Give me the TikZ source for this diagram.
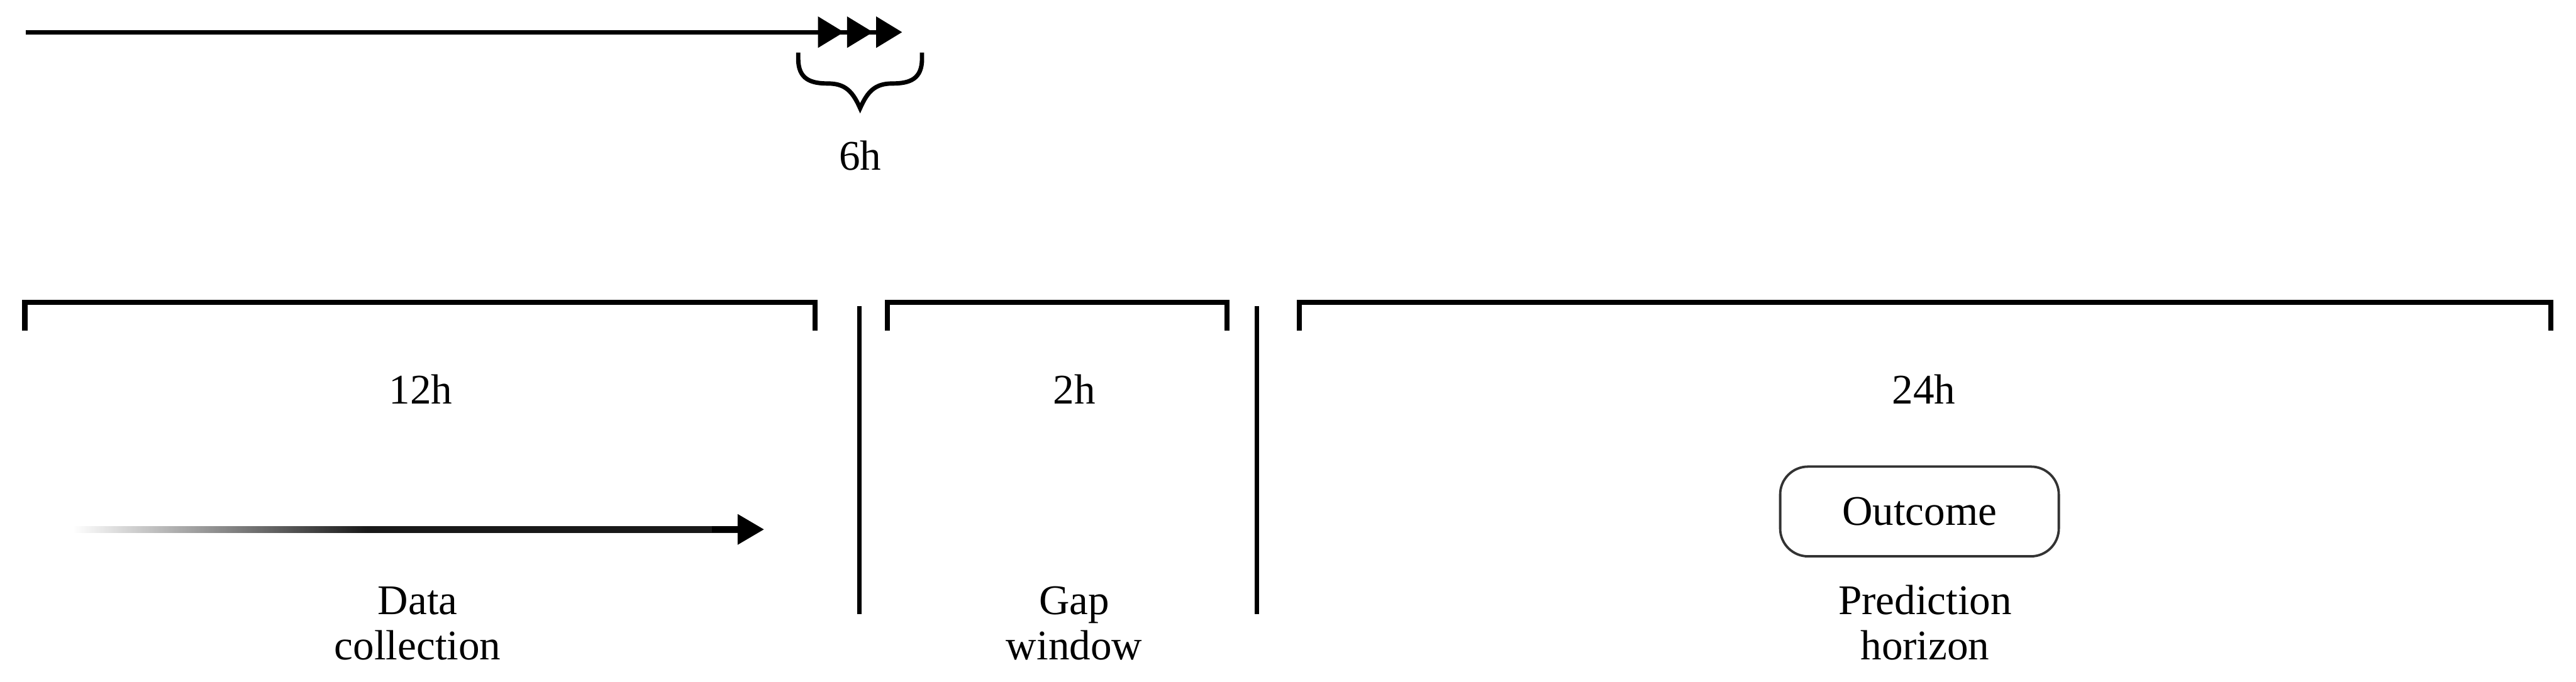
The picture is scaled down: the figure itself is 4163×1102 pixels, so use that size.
\documentclass[tikz,border=0pt]{standalone}
\usepackage{fontspec}
\setmainfont{Liberation Serif}
\usepackage{tikz}
\usetikzlibrary{arrows.meta,positioning}

% fade for the data collection arrow (path is fitted to 25bp--75bp)
\pgfdeclarehorizontalshading{fadein}{100bp}{color(0bp)=(white); color(25bp)=(white); color(47bp)=(black!90); color(75bp)=(black!90); color(100bp)=(black!90)}

\begin{document}
\begin{tikzpicture}[
  x=0.01cm, y=-0.01cm,
  lbl/.style={align=center, inner sep=0pt, font=\fontsize{19.4}{21}\selectfont},
  box/.style={draw=black!80, line width=1.1pt, rounded corners=4.5mm, minimum width=4.5cm, minimum height=1.45cm, inner sep=0pt, font=\fontsize{19.4}{21}\selectfont},
  bracket/.style={line width=2.4pt},
  divider/.style={line width=2pt}
]
\useasboundingbox (0,0) rectangle (4163,1102);

% time line with the 6h steps
\coordinate (tstart) at (42,52);
\coordinate (ttip) at (1458,52);
\draw[line width=2pt, -{Triangle[length=4.2mm,width=4.9mm,sep=0.5mm] Triangle[length=4.2mm,width=4.9mm,sep=0.5mm] Triangle[length=4.2mm,width=4.9mm]}] (tstart) -- (ttip);
\draw[line width=2pt] (1290,85) -- (1290,95) .. controls (1290,128) and (1310,135) .. (1338,135)
  .. controls (1366,135) and (1378,148) .. (1390,175) .. controls (1402,148) and (1414,135) .. (1442,135)
  .. controls (1470,135) and (1490,128) .. (1490,95) -- (1490,85);
\node[lbl, anchor=base] (step) at (1390,275) {6h};

% windows
\draw[bracket] (40,535) |- (1317,489) -- (1317,535);
\draw[bracket] (1434,535) |- (1983,489) -- (1983,535);
\draw[bracket] (2100,535) |- (4122,489) -- (4122,535);
\draw[divider] (1389,495) -- (1389,993);
\draw[divider] (2031,495) -- (2031,993);

\node[lbl, anchor=base] (dc) at (680,653) {12h};
\node[lbl, anchor=base] (gap) at (1736,653) {2h};
\node[lbl, anchor=base] (ph) at (3109,653) {24h};

% data collection arrow
\coordinate (fadeend) at (1150,856);
\coordinate (dctip) at (1235,856);
\shade[shading=fadein] (117,851) rectangle (1195,861);
\draw[line width=2.8pt, -{Triangle[length=4.3mm, width=4.7mm]}] (fadeend) -- (dctip);

\node[box] (outcome) at (3102,827) {Outcome};

\node[lbl, anchor=base] (dclbl) at (675,1067) {Data\\collection};
\node[lbl, anchor=base] (gaplbl) at (1736,1067) {Gap\\window};
\node[lbl, anchor=base] (phlbl) at (3111,1067) {Prediction\\horizon};
\end{tikzpicture}
\end{document}
